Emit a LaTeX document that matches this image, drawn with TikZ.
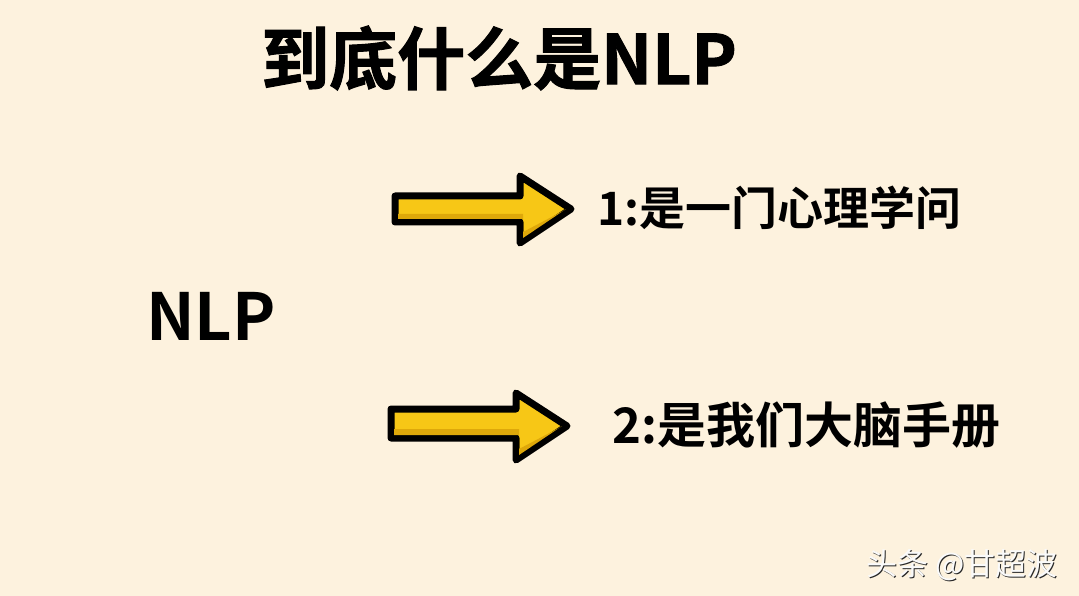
\documentclass[tikz,border=0pt]{standalone}
\usepackage{fontspec}
\newfontfamily\cjk{Noto Sans CJK SC}
\newfontfamily\cjkt{Noto Sans CJK SC Bold}[FakeBold=1.5]
\newfontfamily\cjkm{Noto Sans CJK SC Bold}
\definecolor{bgc}{RGB}{253,242,222}
\definecolor{arrowy}{RGB}{247,199,22}
\definecolor{arrowd}{RGB}{222,168,10}
\definecolor{wm}{RGB}{250,250,250}
\begin{document}
\begin{tikzpicture}[x=1pt,y=-1pt,
  txt/.style={inner sep=0pt,anchor=west,text=black},
  bigarrow/.style={draw=black,line width=7pt,line join=round,fill=arrowy}]
\fill[bgc] (0,0) rectangle (1079,596);
\useasboundingbox (0,0) rectangle (1079,596);
% arrow 1
\path[bigarrow] (395,196) -- (520,196) -- (520,176) -- (571,209) -- (520,243) -- (520,222) -- (395,222) -- cycle;
\fill[arrowd] (398,214) -- (523,214) -- (523,232) -- (563,211) -- (566,209) -- (523,238) -- (523,219) -- (398,219) -- cycle;
% arrow 2
\path[bigarrow] (391,409) -- (516,409) -- (516,393) -- (567,426) -- (516,460) -- (516,438) -- (391,438) -- cycle;
\fill[arrowd] (394,429) -- (519,429) -- (519,449) -- (559,428) -- (562,426) -- (519,455) -- (519,435) -- (394,435) -- cycle;
% texts
\node[txt,font=\cjkt\fontsize{68}{78}\selectfont] (title) at (261,58) {到底什么是NLP};
\node[txt,font=\cjkm\fontsize{65}{76}\selectfont] (nlp) at (146,316) {NLP};
\node[txt,font=\cjkm\fontsize{46}{56}\selectfont] (t1) at (597,208) {1:是一门心理学问};
\node[txt,font=\cjkm\fontsize{49}{58}\selectfont] (t2) at (612,425) {2:是我们大脑手册};
\node[txt,font=\cjk\fontsize{31}{36}\selectfont,text=black!85] (wms) at (867.5,566.5) {头条 @甘超波};
\node[txt,font=\cjk\fontsize{31}{36}\selectfont,text=wm] (wmk) at (866,565) {头条 @甘超波};
\end{tikzpicture}
\end{document}
